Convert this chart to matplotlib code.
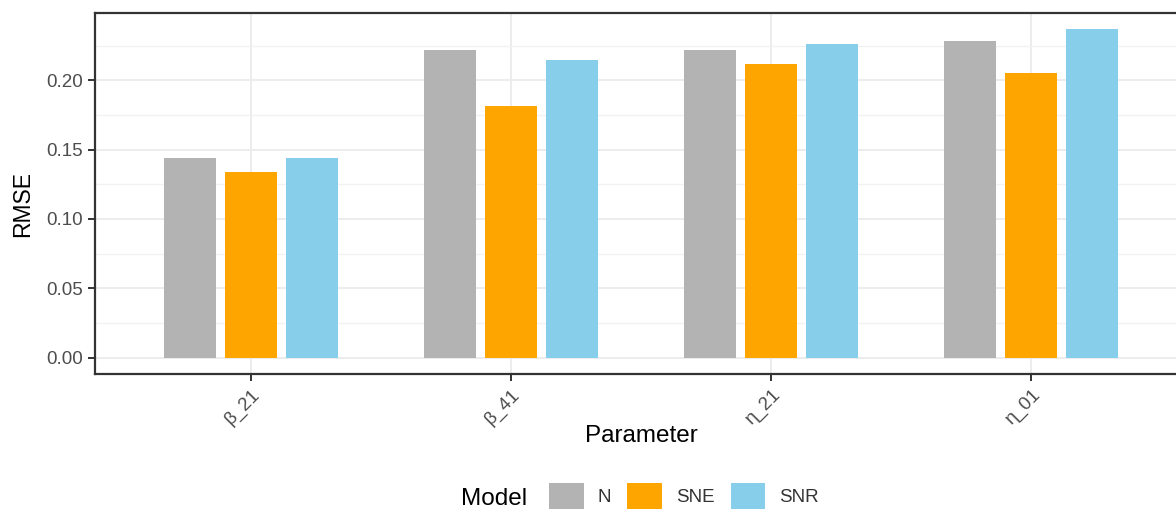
import matplotlib
matplotlib.use("Agg")
import matplotlib.pyplot as plt
from matplotlib.patches import Patch
from matplotlib.ticker import MultipleLocator
import numpy as np

plt.rcParams['font.family'] = ['Liberation Sans', 'DejaVu Sans']

# RMSE per parameter and model
params = ['β_21', 'β_41', 'η_21', 'η_01']
models = ['N', 'SNE', 'SNR']
rmse_N = [0.1443, 0.2216, 0.2216, 0.2283]
rmse_SNE = [0.1342, 0.1816, 0.2121, 0.2049]
rmse_SNR = [0.1443, 0.2144, 0.2261, 0.2367]
colors = ['#B3B3B3', '#FFA500', '#87CEEB']

fig = plt.figure(figsize=(11.76, 5.09), dpi=100)
W, H = 1176, 509
# panel runs past the right edge of the figure
ax = fig.add_axes([95 / W, 1 - 374 / H, (1187 - 95) / W, (374 - 13) / H])

x = np.arange(1, len(params) + 1)
dodge = 0.7 / 3
for i, (vals, c) in enumerate(zip([rmse_N, rmse_SNE, rmse_SNR], colors)):
    ax.bar(x + (i - 1) * dodge, vals, width=0.2, color=c, zorder=3, linewidth=0)

ymax = max(rmse_N + rmse_SNE + rmse_SNR)
ax.set_xlim(0.4, len(params) + 0.6)
ax.set_ylim(-0.05 * ymax, 1.05 * ymax)

ax.yaxis.set_major_locator(MultipleLocator(0.05))
ax.yaxis.set_minor_locator(MultipleLocator(0.025))
ax.set_yticks(np.arange(0, 0.21, 0.05))
ax.set_yticklabels(['%.2f' % v for v in np.arange(0, 0.21, 0.05)])
ax.set_xticks(x)
ax.set_xticklabels(params, rotation=45, ha='right', va='top', rotation_mode='anchor')

ax.grid(which='major', color='#EBEBEB', linewidth=1.3, zorder=0)
ax.grid(which='minor', axis='y', color='#F2F2F2', linewidth=1.0, zorder=0)
ax.tick_params(which='minor', length=0)
ax.tick_params(which='major', length=5, width=1.4, color='#333333',
               labelcolor='#4D4D4D', labelsize=13.5, pad=4)
for s in ax.spines.values():
    s.set_color('#333333')
    s.set_linewidth(1.6)

ax.set_ylabel('RMSE', fontsize=16.5, color='black')
ax.yaxis.set_label_coords(-0.056, 0.47)
ax.set_xlabel('Parameter', fontsize=17.5, color='black')
ax.xaxis.set_label_coords(0.5, -0.142)

# legend along the bottom, title to the left of the keys
fig.text(461 / W, 1 - 499 / H, 'Model', fontsize=17.5, va='center', ha='left')
handles = [Patch(facecolor=c, edgecolor='none') for c in colors]
fig.legend(handles, models, loc='upper left', bbox_to_anchor=(549 / W, 1 - 483 / H),
           ncol=3, frameon=False, fontsize=13.5, borderpad=0, borderaxespad=0,
           handlelength=1.85, handleheight=1.8, handletextpad=0.75, columnspacing=0.85,
           labelcolor='#333333')

fig.savefig('out.png', dpi=100)
